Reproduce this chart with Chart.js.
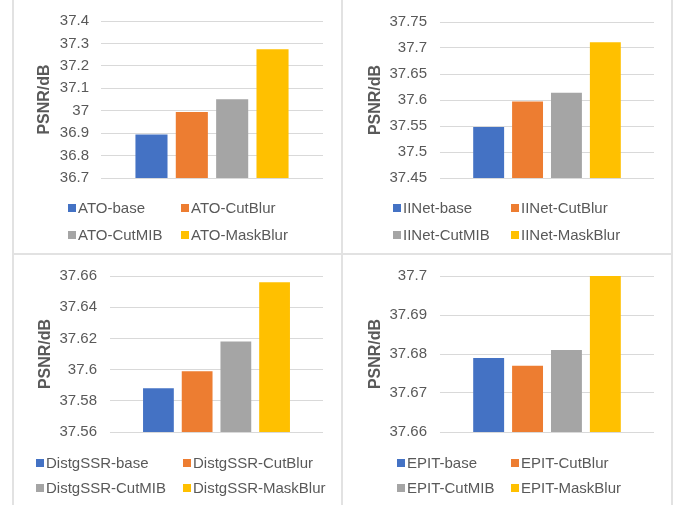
<!DOCTYPE html>
<html>
<head>
<meta charset="utf-8">
<script src="https://cdn.jsdelivr.net/npm/chart.js"></script>
<style>
  html, body { margin: 0; padding: 0; background: #ffffff; }
  #wrap { position: relative; width: 686px; height: 508px; overflow: hidden; background: #fff; }
  canvas { position: absolute; }
  .ln { position: absolute; background: #e2e2e2; }
</style>
</head>
<body>
<div id="wrap">
  <canvas id="c0" style="left:0px;top:0px;"></canvas>
  <canvas id="c1" style="left:343px;top:0px;"></canvas>
  <canvas id="c2" style="left:0px;top:254px;"></canvas>
  <canvas id="c3" style="left:343px;top:254px;"></canvas>
  <div class="ln" style="left:12px;top:0;width:2px;height:505px;"></div>
  <div class="ln" style="left:341px;top:0;width:2px;height:505px;"></div>
  <div class="ln" style="left:671px;top:0;width:2px;height:505px;"></div>
  <div class="ln" style="left:12px;top:253px;width:661px;height:2px;"></div>
</div>
<script>
// ---- data ----
const ATO_LABELS = ['ATO-base', 'ATO-CutBlur', 'ATO-CutMIB', 'ATO-MaskBlur'];
const ATO_VALUES = [36.894, 36.994, 37.051, 37.274];
const ATO_TICKS = ['36.7', '36.8', '36.9', '37', '37.1', '37.2', '37.3', '37.4'];

const IINET_LABELS = ['IINet-base', 'IINet-CutBlur', 'IINet-CutMIB', 'IINet-MaskBlur'];
const IINET_VALUES = [37.548, 37.597, 37.614, 37.711];
const IINET_TICKS = ['37.45', '37.5', '37.55', '37.6', '37.65', '37.7', '37.75'];

const DISTG_LABELS = ['DistgSSR-base', 'DistgSSR-CutBlur', 'DistgSSR-CutMIB', 'DistgSSR-MaskBlur'];
const DISTG_VALUES = [37.588, 37.599, 37.618, 37.656];
const DISTG_TICKS = ['37.56', '37.58', '37.6', '37.62', '37.64', '37.66'];

const EPIT_LABELS = ['EPIT-base', 'EPIT-CutBlur', 'EPIT-CutMIB', 'EPIT-MaskBlur'];
const EPIT_VALUES = [37.679, 37.677, 37.681, 37.700];
const EPIT_TICKS = ['37.66', '37.67', '37.68', '37.69', '37.7'];

const Y_TITLE = 'PSNR/dB';

// ---- style ----
const COLORS = ['#4472C4', '#ED7D31', '#A5A5A5', '#FFC000'];
const TEXT = '#595959';
const FONT = '"Liberation Sans", Arial, sans-serif';

const panels = [
  { id: 'c0', labels: ATO_LABELS, values: ATO_VALUES, ticks: ATO_TICKS,
    axisW: 101, padR: 20, tickPad: 12, titlePad: 35, leg: [68, 181], legY: [208, 235] },
  { id: 'c1', labels: IINET_LABELS, values: IINET_VALUES, ticks: IINET_TICKS,
    axisW: 97, padR: 32, tickPad: 13, titlePad: 23, leg: [50, 168], legY: [208, 235] },
  { id: 'c2', labels: DISTG_LABELS, values: DISTG_VALUES, ticks: DISTG_TICKS,
    axisW: 110, padR: 20, tickPad: 13, titlePad: 36, leg: [36, 183], legY: [209, 234] },
  { id: 'c3', labels: EPIT_LABELS, values: EPIT_VALUES, ticks: EPIT_TICKS,
    axisW: 97, padR: 32, tickPad: 13, titlePad: 23, leg: [54, 168], legY: [209, 234] }
];

const legendPlugin = {
  id: 'excelLegend',
  afterDraw(chart, args, opts) {
    const ctx = chart.ctx;
    ctx.save();
    ctx.font = '15px ' + FONT;
    ctx.textBaseline = 'middle';
    ctx.textAlign = 'left';
    chart.data.datasets.forEach((ds, i) => {
      const col = i % 2, row = Math.floor(i / 2);
      const x = opts.cols[col], y = opts.rows[row];
      ctx.fillStyle = ds.backgroundColor;
      ctx.fillRect(x, y - 4, 8, 8);
      ctx.fillStyle = TEXT;
      ctx.fillText(ds.label, x + 10, y + 0.5);
    });
    ctx.restore();
  }
};

panels.forEach(p => {
  const cv = document.getElementById(p.id);
  cv.width = 343; cv.height = 254;
  cv.style.width = '343px'; cv.style.height = '254px';
  const tickVals = p.ticks.map(t => parseFloat(t));
  new Chart(cv, {
    type: 'bar',
    data: {
      labels: [''],
      datasets: p.labels.map((l, i) => ({
        label: l,
        data: [p.values[i]],
        backgroundColor: COLORS[i],
        borderWidth: 0,
        categoryPercentage: 0.727,
        barPercentage: 0.795
      }))
    },
    options: {
      responsive: false,
      animation: false,
      devicePixelRatio: 1,
      layout: { padding: { left: 0, right: p.padR, top: 18, bottom: 76 } },
      plugins: {
        legend: { display: false },
        tooltip: { enabled: false },
        excelLegend: { cols: p.leg, rows: p.legY }
      },
      scales: {
        x: { display: false },
        y: {
          min: tickVals[0],
          max: tickVals[tickVals.length - 1],
          afterBuildTicks: s => { s.ticks = tickVals.map(v => ({ value: v })); },
          afterFit: s => { s.width = p.axisW; },
          border: { display: false },
          grid: { color: '#d9d9d9', lineWidth: 1, drawTicks: false },
          ticks: {
            padding: p.tickPad,
            color: TEXT,
            font: { family: FONT, size: 15 },
            callback: (v, i) => p.ticks[i]
          },
          title: {
            display: true,
            text: Y_TITLE,
            color: TEXT,
            font: { family: FONT, size: 16, weight: 'bold' },
            padding: { top: p.titlePad, bottom: 0 }
          }
        }
      }
    },
    plugins: [legendPlugin]
  });
});
</script>
</body>
</html>
